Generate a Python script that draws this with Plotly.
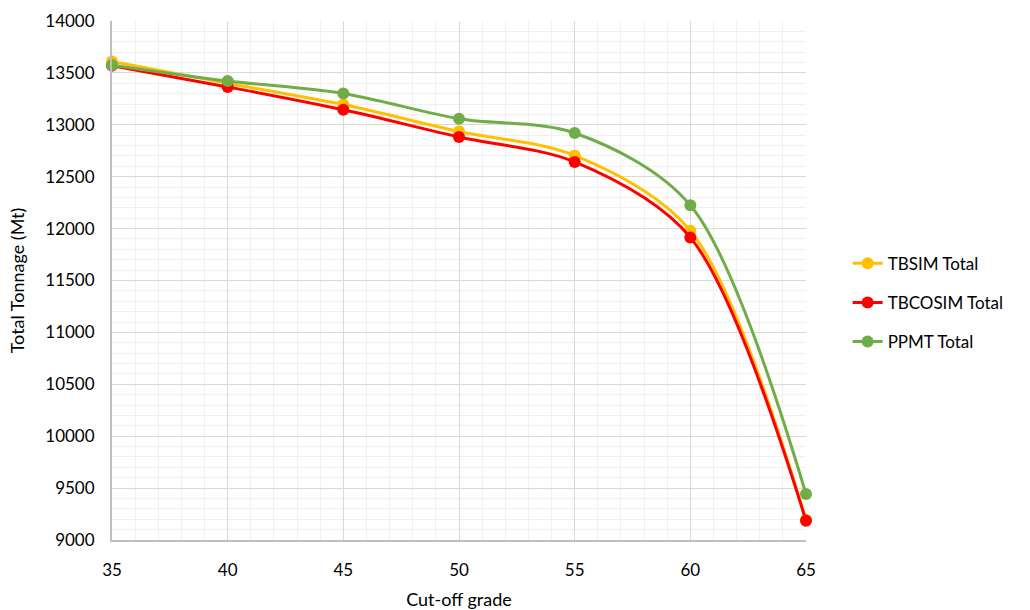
import plotly.graph_objects as go

grades = [35, 40, 45, 50, 55, 60, 65]
tbsim_total = [13610, 13400, 13195, 12935, 12705, 11980, 9195]
tbcosim_total = [13570, 13365, 13145, 12882, 12642, 11915, 9185]
ppmt_total = [13575, 13422, 13302, 13058, 12921, 12225, 9443]

series = [
    ("TBSIM Total", tbsim_total, "#FFC000"),
    ("TBCOSIM Total", tbcosim_total, "#FF0000"),
    ("PPMT Total", ppmt_total, "#70AD47"),
]

fig = go.Figure()
for name, vals, col in series:
    fig.add_trace(go.Scatter(
        x=grades, y=vals, name=name, mode="lines+markers", legendgroup=name,
        line=dict(color=col, width=3, shape="spline", smoothing=0.9),
        marker=dict(color=col, size=12), cliponaxis=False,
    ))

font = "Lato, Open Sans, sans-serif"
fig.update_layout(
    width=1030, height=610,
    margin=dict(l=112, r=224, t=21, b=70),
    paper_bgcolor="white", plot_bgcolor="white",
    font=dict(family=font, size=17, color="#000000"),
    legend=dict(x=1.06, y=0.457, xanchor="left", yanchor="middle",
                font=dict(size=17), tracegroupgap=14),
    showlegend=True,
)
fig.update_xaxes(
    range=[35, 65], tickvals=[35, 40, 45, 50, 55, 60, 65],
    showgrid=True, gridcolor="#D9D9D9", gridwidth=1,
    minor=dict(dtick=1, showgrid=True, gridcolor="#F0F0F0", gridwidth=1),
    showline=True, linecolor="#BFBFBF", linewidth=2,
    zeroline=False, ticks="", ticklabelstandoff=14, automargin=False,
    title=dict(text="Cut-off grade", standoff=22, font=dict(size=18)),
)
fig.update_yaxes(
    range=[9000, 14000], dtick=500, tickformat="d",
    showgrid=True, gridcolor="#D9D9D9", gridwidth=1,
    minor=dict(dtick=100, showgrid=True, gridcolor="#F0F0F0", gridwidth=1),
    showline=True, linecolor="#BFBFBF", linewidth=2,
    zeroline=False, ticks="", ticklabelstandoff=12, automargin=False,
    title=dict(text="Total Tonnage (Mt)", standoff=16, font=dict(size=18)),
)
fig.write_html("out.html")
